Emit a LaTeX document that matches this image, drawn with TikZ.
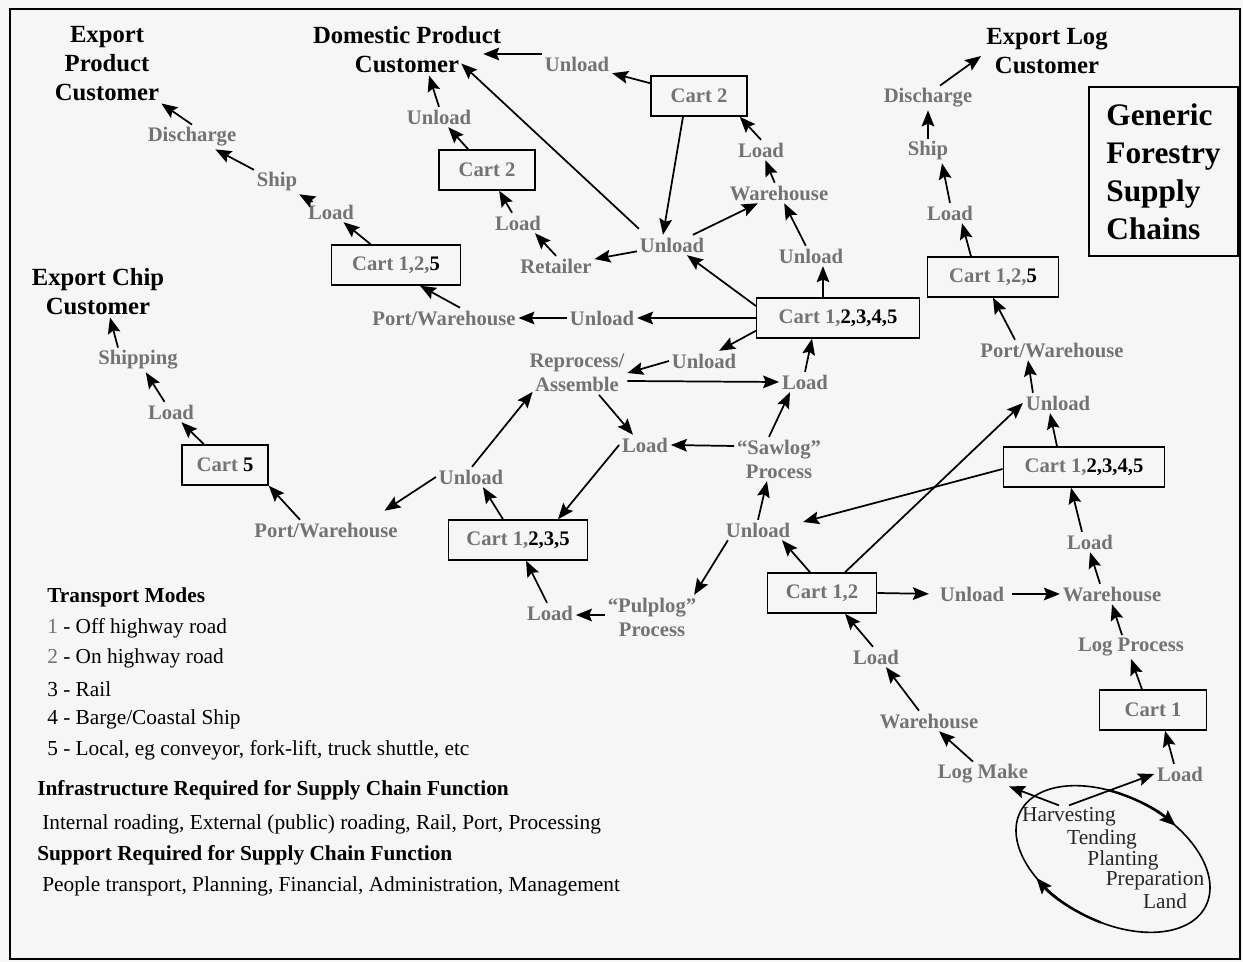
\documentclass[tikz,border=0pt]{standalone}
\usepackage{fontspec}
\setmainfont{Liberation Serif}
\usetikzlibrary{arrows.meta,calc,shapes.geometric}
\definecolor{lab}{gray}{0.45}
\definecolor{bgc}{gray}{0.965}
\newcommand\blk[1]{\textcolor{black}{#1}}
\begin{document}
\begin{tikzpicture}[x=0.75pt,y=-0.75pt,
 lbl/.style={font=\fontsize{15.5}{18}\selectfont\bfseries, text=lab, inner sep=2pt, align=center},
 ttl/.style={font=\fontsize{18.5}{21.75}\selectfont\bfseries, align=center, inner sep=1.5pt},
 cart/.style={draw, line width=1.1pt, font=\fontsize{15.5}{18}\selectfont\bfseries, text=lab, inner sep=0pt, minimum height=30pt},
 arr/.style={line width=1.3pt, -{Stealth[length=12pt,width=9.5pt,inset=2pt]}},
 leg/.style={anchor=west, inner sep=0pt, font=\fontsize{16}{19}\selectfont},
 legb/.style={anchor=west, inner sep=0pt, font=\fontsize{16}{19}\selectfont\bfseries},
 elt/.style={font=\fontsize{16}{19}\selectfont, text=black!85, inner sep=1.5pt},
]
\fill[bgc] (0,0) rectangle (1243,962);
\useasboundingbox (0,0) rectangle (1243,962);
\draw[line width=2pt] (10,9) rectangle (1240,959);

% titles
\node[ttl] (epc) at (107,64) {Export\\Product\\Customer};
\node[ttl] (dpc) at (407,50) {Domestic Product\\Customer};
\node[ttl] (elc) at (1047,51) {Export Log\\Customer};
\node[ttl] (ecc) at (98,292) {Export Chip\\Customer};
\node[draw, line width=1.3pt, minimum width=111.75pt, minimum height=126.75pt, align=left,
      font=\fontsize{23.5}{28.5}\selectfont\bfseries] (gen) at (1163.5,171.5) {Generic\\Forestry\\Supply\\Chains};

% export product chain
\node[lbl] (dis1) at (192,137) {Discharge};
\node[lbl] (ship1) at (277,182) {Ship};
\node[lbl] (load1) at (331,212) {Load};
\node[cart, minimum width=96.75pt] (cart125L) at (396,265) {Cart 1,2,\blk{5}};
\node[lbl] (pw1) at (444,318) {Port/Warehouse};
\node[lbl] (unl1) at (602,318) {Unload};
\node[cart, minimum width=122pt] (cartM) at (838,318) {Cart 1,\blk{2,3,4,5}};

% domestic
\node[lbl] (unl2) at (577,64) {Unload};
\node[cart, minimum width=72pt] (cart2R) at (699,96) {Cart 2};
\node[lbl] (unl3) at (672,245) {Unload};
\node[lbl] (ret1) at (556,266) {Retailer};
\node[lbl] (load3) at (518,223) {Load};
\node[cart, minimum width=72pt] (cart2L) at (487,170) {Cart 2};
\node[lbl] (unl5) at (439,117) {Unload};
\node[lbl] (wh1) at (779,193) {Warehouse};
\node[lbl] (load2) at (761,150) {Load};
\node[lbl] (unl4) at (811,256) {Unload};

% export log
\node[lbl] (dis2) at (928,98) {Discharge};
\node[lbl] (ship2) at (928,151) {Ship};
\node[lbl] (load4) at (950,213) {Load};
\node[cart, minimum width=98pt] (cart125R) at (993,277) {Cart 1,2,\blk{5}};
\node[lbl] (pw2) at (1052,350) {Port/Warehouse};
\node[lbl] (unl6) at (1058,403) {Unload};
\node[cart, minimum width=121pt] (cartR5) at (1084,467) {Cart 1,\blk{2,3,4,5}};
\node[lbl] (load5) at (1090,542) {Load};
\node[lbl] (wh2) at (1112,594) {Warehouse};
\node[lbl] (unl8) at (972,594) {Unload};
\node[cart, minimum width=82pt] (cart12) at (822,593) {Cart 1,2};
\node[lbl] (logp) at (1131,647) {Log Process};
\node[cart, minimum width=80pt] (cart1) at (1153,710) {Cart 1};
\node[lbl] (load6) at (1180,774) {Load};
\node[lbl] (logm) at (983,774) {Log Make};
\node[lbl] (wh3) at (929,721) {Warehouse};
\node[lbl] (load7) at (876,657) {Load};

% centre
\node[lbl] (unl7) at (758,530) {Unload};
\node[lbl] (saw) at (779,459) {“Sawlog”\\Process};
\node[lbl] (load10) at (805,382) {Load};
\node[lbl] (unl10) at (704,361) {Unload};
\node[lbl] (rep) at (577,373) {Reprocess/\\Assemble};
\node[lbl] (load9) at (645,445) {Load};
\node[cart, minimum width=104pt] (cart1235) at (518,540) {Cart 1,\blk{2,3,5}};
\node[lbl] (unl9) at (471,477) {Unload};
\node[lbl] (pw3) at (326,530) {Port/Warehouse};
\node[cart, minimum width=64.5pt] (cart5) at (225,465) {Cart \blk{5}};
\node[lbl] (load8) at (171,412) {Load};
\node[lbl] (ship3) at (138,360) {Shipping};
\node[lbl] (pulp) at (652,617) {“Pulplog”\\Process};
\node[lbl] (load11) at (550,613) {Load};

% ellipse text
\node[elt] (harv) at (1069,817) {Harvesting};
\node[elt] (tend) at (1102,839) {Tending};
\node[elt] (plant) at (1123,860) {Planting};
\node[elt] (prep) at (1155,881) {Preparation};
\node[elt] (land) at (1165,901) {Land};

\begin{scope}[shift={(1113,859)}, rotate=-27]
  \draw[line width=1.2pt] (0,0) ellipse [x radius=104, y radius=63];
  \draw[arr, line width=1.8pt] (-110:104 and 63) arc[start angle=-110, end angle=-67, x radius=104, y radius=63];
  \draw[arr, line width=1.8pt] (80:104 and 63) arc[start angle=80, end angle=125, x radius=104, y radius=63];
\end{scope}

% arrows: export product
\draw[arr] (cart125L) -- (load1);
\draw[arr] (load1) -- (ship1);
\draw[arr] (ship1) -- (dis1);
\draw[arr] (dis1.north) -- (epc.south east);
\draw[arr] ($(pw1.north)+(16,0)$) -- ($(cart125L.south)+(24,0)$);
\draw[arr] (unl1) -- (pw1);
\draw[arr] (cartM) -- (unl1);

% domestic
\draw[arr] ($(unl2.west)+(0,-10)$) -- ($(dpc.east)+(-20,4)$);
\draw[arr] (cart2R) -- (unl2);
\draw[arr] ($(cart2R.south)+(-16,0)$) -- ($(unl3.north)+(-9,0)$);
\draw[arr] ($(unl3.north west)+(2,-6)$) -- ($(dpc.south east)+(-42,-12)$);
\draw[arr] (unl3) -- (wh1);
\draw[arr] (wh1) -- (load2);
\draw[arr] (load2.north) -- ($(cart2R.south east)+(-8,0)$);
\draw[arr] (unl4) -- (wh1);
\draw[arr] ($(cartM.north)+(-15,0)$) -- ($(unl4.south)+(12,0)$);
\draw[arr] ($(cartM.west)+(0,-12)$) -- ($(unl3.south)+(15,0)$);
\draw[arr] (unl3) -- (ret1);
\draw[arr] (ret1.north) -- ($(load3.south)+(17,0)$);
\draw[arr] (load3) -- (cart2L);
\draw[arr] (cart2L) -- (unl5);
\draw[arr] (unl5.north) -- ($(dpc.south)+(22,0)$);

% export log
\draw[arr] ($(dis2.north)+(12,0)$) -- ($(elc.west)+(-3,5)$);
\draw[arr] (ship2.north) -- (dis2.south);
\draw[arr] (load4.north) -- ($(ship2.south)+(14,0)$);
\draw[arr] ($(cart125R.north)+(-22,0)$) -- ($(load4.south)+(12,0)$);
\draw[arr] ($(pw2.north)+(-37,0)$) -- (cart125R.south);
\draw[arr] ($(unl6.north west)+(10,0)$) -- ($(pw2.south)+(-24,0)$);
\draw[arr] ($(cartR5.north)+(-27,0)$) -- ($(unl6.south)+(-8,0)$);
\draw[arr] ($(cartR5.west)+(0,2)$) -- ($(unl7.east)+(10,-8)$);
\draw[arr] ($(load5.north)+(-8,0)$) -- ($(cartR5.south)+(-13,0)$);
\draw[arr] ($(wh2.north)+(-12,0)$) -- (load5.south);
\draw[arr, shorten <=4pt] (unl8.east) -- (wh2.west);
\draw[arr, shorten >=6pt] (cart12.east) -- (unl8.west);
\draw[arr] ($(cart12.north)+(-12,0)$) -- ($(unl7.south)+(24,0)$);
\draw[arr] ($(cart12.north)+(23,0)$) -- (unl6.west);
\draw[arr] ($(logp.north)+(-9,0)$) -- (wh2.south);
\draw[arr] ($(cart1.north)+(-11,0)$) -- (logp.south);
\draw[arr] ($(load6.north)+(-6,0)$) -- ($(cart1.south)+(12,0)$);
\draw[arr] ($(harv.north)+(-10,0)$) -- ($(logm.south east)+(-22,0)$);
\draw[arr] (harv.north) -- (load6.west);
\draw[arr] ($(logm.north)+(-10,0)$) -- ($(wh3.south)+(10,0)$);
\draw[arr] ($(wh3.north)+(-10,0)$) -- ($(load7.south)+(10,0)$);
\draw[arr] ($(load7.north)+(-3,0)$) -- ($(cart12.south)+(23,0)$);

% centre
\draw[arr] (unl7.north) -- ($(saw.south)+(-12,0)$);
\draw[arr] ($(saw.north)+(-10,0)$) -- ($(load10.south)+(-15,0)$);
\draw[arr] ($(saw.west)+(0,-13)$) -- (load9.east);
\draw[arr] (load9.west) -- ($(cart1235.north)+(40,0)$);
\draw[arr] (load10.north) -- ($(cartM.south)+(-26,0)$);
\draw[arr] ($(rep.east)+(0,8)$) -- (load10.west);
\draw[arr] ($(rep.south)+(22,0)$) -- ($(load9.north)+(-12,0)$);
\draw[arr] (unl10.west) -- (rep.east);
\draw[arr] ($(cartM.south west)+(0,-8)$) -- ($(unl10.north east)+(-20,0)$);
\draw[arr] ($(unl9.north)+(1,0)$) -- ($(rep.south west)+(6,-3)$);
\draw[arr] ($(cart1235.north)+(-15,0)$) -- ($(unl9.south)+(12,0)$);
\draw[arr] (unl9.west) -- ($(pw3.north east)+(-16,-9)$);
\draw[arr] ($(pw3.north)+(-26,0)$) -- (cart5.south east);
\draw[arr] (cart5) -- (load8);
\draw[arr] (load8) -- (ship3);
\draw[arr] ($(ship3.north)+(-20,0)$) -- ($(ecc.south)+(12,0)$);
\draw[arr] ($(unl7.south west)+(5,0)$) -- ($(pulp.north east)+(-5,0)$);
\draw[arr] ($(pulp.west)+(0,-2)$) -- ($(load11.east)+(0,2)$);
\draw[arr] ($(load11.north)+(-3,0)$) -- ($(cart1235.south)+(8,0)$);

% legend
\node[legb] (tm) at (47,597) {Transport Modes};
\node[leg] (m1) at (47,628) {\textcolor{lab}{1} - Off highway road};
\node[leg] (m2) at (47,658) {\textcolor{lab}{2} - On highway road};
\node[leg] (m3) at (47,689) {3 - Rail};
\node[leg] (m4) at (47,719) {4 - Barge/Coastal Ship};
\node[leg] (m5) at (47,750) {5 - Local, eg conveyor, fork-lift, truck shuttle, etc};
\node[legb] (inf) at (37,790) {Infrastructure Required for Supply Chain Function};
\node[leg] (infx) at (42,824) {Internal roading, External (public) roading, Rail, Port, Processing};
\node[legb] (sup) at (37,855) {Support Required for Supply Chain Function};
\node[leg] (supx) at (42,886) {People transport, Planning, Financial, Administration, Management};
\end{tikzpicture}
\end{document}
